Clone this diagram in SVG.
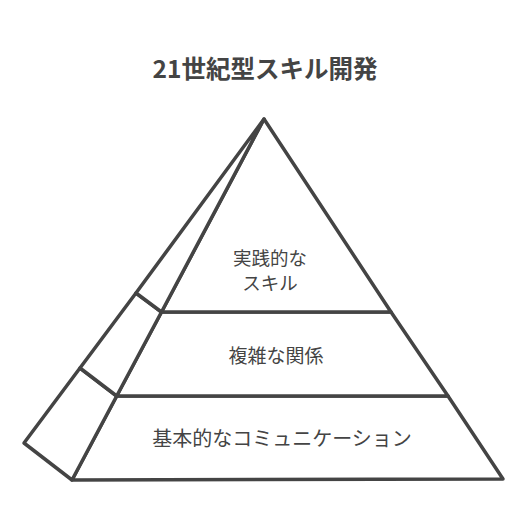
<svg xmlns="http://www.w3.org/2000/svg" width="528" height="528" viewBox="0 0 528 528">
<style>
.face{fill:#ffffff;stroke:#444444;stroke-width:3.5;stroke-linejoin:round;stroke-linecap:round}
.lbl{font-family:"Noto Sans CJK JP","Noto Sans",sans-serif;font-size:19px;fill:#444444;text-anchor:middle}
.title{font-family:"Noto Sans CJK JP","Noto Sans",sans-serif;font-size:24.5px;font-weight:bold;fill:#444444;text-anchor:middle}
</style>
<rect width="528" height="528" fill="#ffffff"/>
<g id="title"><text class="title" x="265" y="78">21世紀型スキル開発</text></g>
<g id="tier-bottom">
<polygon class="face" points="116.7,396 72,480 503,479 448,396"/>
<polygon class="face" points="80,368 24,443 72,480 116.7,396"/>
<text class="lbl" x="282" y="446" style="font-size:20px">基本的なコミュニケーション</text>
</g>
<g id="tier-middle">
<polygon class="face" points="161.5,312 116.7,396 448,396 391,312"/>
<polygon class="face" points="136,293 80,368 116.7,396 161.5,312"/>
<text class="lbl" x="276" y="363">複雑な関係</text>
</g>
<g id="tier-top">
<polygon class="face" points="264,119 161.5,312 391,312"/>
<polygon class="face" points="264,119 136,293 161.5,312"/>
<text class="lbl" x="270" y="265" style="font-size:18.5px">実践的な</text>
<text class="lbl" x="270" y="289.5" style="font-size:18.5px">スキル</text>
</g>
<g id="connectors"/>
</svg>
